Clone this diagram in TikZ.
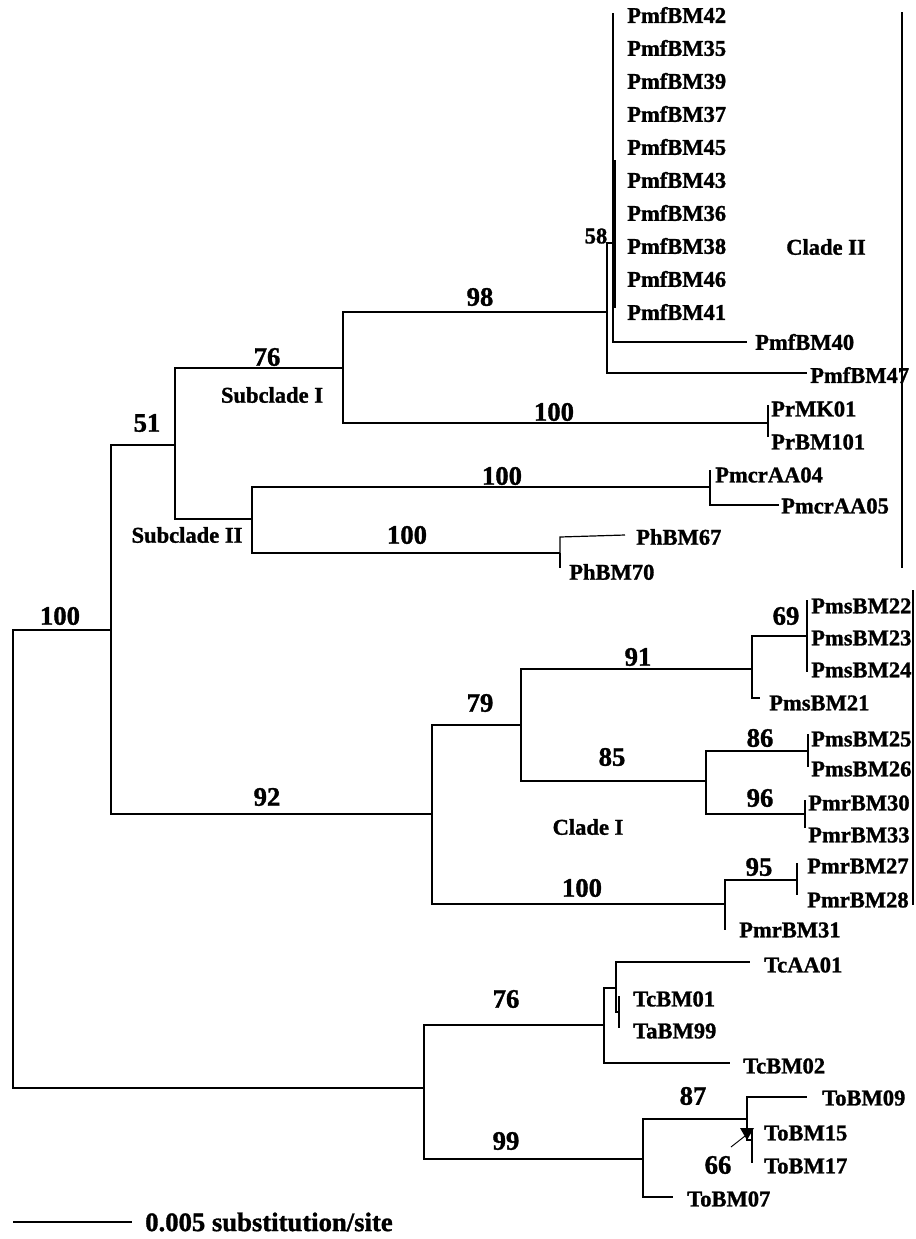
\documentclass[tikz,border=0pt]{standalone}
\usepackage{fontspec}
\setmainfont{Liberation Serif}[BoldFeatures={FakeBold=1.2}]
\usetikzlibrary{arrows.meta}
\newcommand\leaffont{\fontsize{16.9pt}{18pt}\selectfont\bfseries}
\newcommand\bootfont{\fontsize{20pt}{22pt}\selectfont\bfseries}
\begin{document}
\begin{tikzpicture}[x=0.75pt,y=-0.75pt,
  br/.style={draw=black, line width=0.9pt},
  leaf/.style={anchor=west, inner sep=0pt, font=\leaffont},
  boot/.style={inner sep=0pt, font=\bootfont},
  cladelab/.style={inner sep=0pt, font=\leaffont},
  cladebar/.style={draw=black, line width=2.2pt}]
\fill[white] (0,0) rectangle (916,1239);
\useasboundingbox (0,0) rectangle (916,1239);

% ---------- internal nodes ----------
\coordinate (r) at (13,860);
\coordinate (A) at (111,630);
\coordinate (T) at (424,1088);
\coordinate (B) at (175,445);
\coordinate (C) at (432,814);
\coordinate (S1) at (343,368);
\coordinate (S2) at (252,519);
\coordinate (D) at (607,312);
\coordinate (P) at (768,423);
\coordinate (E) at (613,243);
\coordinate (F) at (710,487);
\coordinate (G) at (560,553);
\coordinate (H) at (521,725);
\coordinate (K) at (725,904);
\coordinate (I) at (752,669);
\coordinate (J) at (706,781);
\coordinate (L) at (807,636);
\coordinate (M86) at (808,751);
\coordinate (M96) at (805,814);
\coordinate (N) at (797,880);
\coordinate (U) at (604,1025);
\coordinate (V) at (643,1159);
\coordinate (W) at (616,988);
\coordinate (X) at (619,1012);
\coordinate (Y) at (747,1119);
\coordinate (Z) at (752,1140);

% ---------- branch ends ----------
\coordinate (etop) at (613,13);
\coordinate (e40) at (747,342);
\coordinate (e47) at (807,373);
\coordinate (Eth1) at (615,160);
\coordinate (Eth2) at (615,308);
\coordinate (Ptop) at (768,405);
\coordinate (Pbot) at (768,437);
\coordinate (Ftop) at (710,470);
\coordinate (e05) at (779,505);
\coordinate (g67) at (560,537);
\coordinate (e67) at (625,535);
\coordinate (Gbot) at (560,568);
\coordinate (e21) at (760,698);
\coordinate (Ltop) at (807,600);
\coordinate (Lbot) at (807,672);
\coordinate (M86t) at (808,734);
\coordinate (M86b) at (808,767);
\coordinate (M96t) at (805,800);
\coordinate (M96b) at (805,828);
\coordinate (Kbot) at (725,930);
\coordinate (Nt) at (797,863);
\coordinate (Nb) at (797,895);
\coordinate (e02) at (730,1063);
\coordinate (Wtop) at (616,962);
\coordinate (eAA) at (750,962);
\coordinate (Xt) at (619,996);
\coordinate (Xb) at (619,1028);
\coordinate (e07) at (673,1197);
\coordinate (e09) at (807,1097);
\coordinate (Zt) at (752,1130);
\coordinate (Zb) at (752,1163);

% ---------- branches ----------
\draw[br] (r) |- (A);  \draw[br] (r) |- (T);
\draw[br] (A) |- (B);  \draw[br] (A) |- (C);
\draw[br] (B) |- (S1); \draw[br] (B) |- (S2);
\draw[br] (S1) |- (D); \draw[br] (S1) |- (P);
\draw[br] (D) |- (E);  \draw[br] (D) |- (e47);
\draw[br] (E) |- (etop); \draw[br] (E) |- (e40);
\draw[line width=2pt] (Eth1) -- (Eth2);
\draw[br] (P) -- (Ptop); \draw[br] (P) -- (Pbot);
\draw[br] (S2) |- (F); \draw[br] (S2) |- (G);
\draw[br] (F) -- (Ftop); \draw[br] (F) |- (e05);
\draw[br] (G) -- (g67) -- (e67); \draw[br] (G) -- (Gbot);
\draw[br] (C) |- (H);  \draw[br] (C) |- (K);
\draw[br] (H) |- (I);  \draw[br] (H) |- (J);
\draw[br] (I) |- (L);  \draw[br] (I) |- (e21);
\draw[br] (L) -- (Ltop); \draw[br] (L) -- (Lbot);
\draw[br] (J) |- (M86); \draw[br] (J) |- (M96);
\draw[br] (M86) -- (M86t); \draw[br] (M86) -- (M86b);
\draw[br] (M96) -- (M96t); \draw[br] (M96) -- (M96b);
\draw[br] (K) |- (N); \draw[br] (K) -- (Kbot);
\draw[br] (N) -- (Nt); \draw[br] (N) -- (Nb);
\draw[br] (T) |- (U); \draw[br] (T) |- (V);
\draw[br] (U) |- (W); \draw[br] (U) |- (e02);
\draw[br] (W) |- (eAA); \draw[br] (W) |- (X);
\draw[br] (X) -- (Xt); \draw[br] (X) -- (Xb);
\draw[br] (V) |- (Y); \draw[br] (V) |- (e07);
\draw[br] (Y) |- (e09); \draw[br] (Y) |- (Z);
\draw[br] (Z) -- (Zt); \draw[br] (Z) -- (Zb);

% arrow marker near 66
\coordinate (arS) at (731,1147);
\coordinate (arE) at (745,1136);
\draw[line width=0.7pt] (arS) -- (arE);
\fill (740,1128) -- (754,1128) -- (747,1140) -- cycle;

% ---------- clade bars ----------
\coordinate (c2t) at (902,12);  \coordinate (c2b) at (902,568);
\coordinate (c1t) at (913,590); \coordinate (c1b) at (913,905);
\draw[cladebar] (c2t) -- (c2b);
\draw[cladebar] (c1t) -- (c1b);

% ---------- leaf labels ----------
\foreach \n [count=\i from 0] in {42,35,39,37,45,43,36,38,46,41}
  \node[leaf] (pmf\n) at (627,{15+33*\i}) {PmfBM\n};
\node[leaf] (pmf40) at (755,342) {PmfBM40};
\node[leaf] (pmf47) at (810,375) {PmfBM47};
\node[leaf] (prmk01) at (771,409) {PrMK01};
\node[leaf] (prbm101) at (771,442) {PrBM101};
\node[leaf] (aa04) at (715,475) {PmcrAA04};
\node[leaf] (aa05) at (781,506) {PmcrAA05};
\node[leaf] (ph67) at (636,537) {PhBM67};
\node[leaf] (ph70) at (569,572) {PhBM70};
\node[leaf] (ms22) at (811,606) {PmsBM22};
\node[leaf] (ms23) at (811,638) {PmsBM23};
\node[leaf] (ms24) at (811,670) {PmsBM24};
\node[leaf] (ms21) at (769,703) {PmsBM21};
\node[leaf] (ms25) at (811,739) {PmsBM25};
\node[leaf] (ms26) at (811,769) {PmsBM26};
\node[leaf] (mr30) at (808,803) {PmrBM30};
\node[leaf] (mr33) at (808,835) {PmrBM33};
\node[leaf] (mr27) at (807,866) {PmrBM27};
\node[leaf] (mr28) at (807,900) {PmrBM28};
\node[leaf] (mr31) at (739,930) {PmrBM31};
\node[leaf] (tcaa01) at (764,965) {TcAA01};
\node[leaf] (tcbm01) at (633,999) {TcBM01};
\node[leaf] (tabm99) at (633,1031) {TaBM99};
\node[leaf] (tcbm02) at (743,1066) {TcBM02};
\node[leaf] (to09) at (822,1098) {ToBM09};
\node[leaf] (to15) at (764,1133) {ToBM15};
\node[leaf] (to17) at (764,1166) {ToBM17};
\node[leaf] (to07) at (687,1199) {ToBM07};

% ---------- clade labels ----------
\node[cladelab] (cl2) at (826,247) {Clade II};
\node[cladelab] (cl1) at (588,827) {Clade I};
\node[cladelab] (sc1) at (272,395) {Subclade I};
\node[cladelab] (sc2) at (187,535) {Subclade II};

% ---------- bootstrap values ----------
\node[boot] (b100r) at (60,616) {100};
\node[boot] (b51) at (147,423) {51};
\node[boot] (b76a) at (267,357) {76};
\node[boot] (b98) at (480,297) {98};
\node[cladelab] (b58) at (596,236) {58};
\node[boot] (b100p) at (554,412) {100};
\node[boot] (b100aa) at (502,476) {100};
\node[boot] (b100ph) at (407,535) {100};
\node[boot] (b92) at (267,797) {92};
\node[boot] (b79) at (480,703) {79};
\node[boot] (b91) at (638,657) {91};
\node[boot] (b85) at (612,757) {85};
\node[boot] (b69) at (786,616) {69};
\node[boot] (b86) at (760,738) {86};
\node[boot] (b96) at (760,798) {96};
\node[boot] (b95) at (759,867) {95};
\node[boot] (b100mr) at (582,888) {100};
\node[boot] (b76b) at (506,999) {76};
\node[boot] (b99) at (506,1141) {99};
\node[boot] (b87) at (693,1096) {87};
\node[boot] (b66) at (718,1165) {66};

% ---------- scale bar ----------
\coordinate (s1) at (13,1222);
\coordinate (s2) at (132,1222);
\draw[br] (s1) -- (s2);
\node[leaf, font=\bootfont] (scal) at (145,1222) {0.005 substitution/site};
\end{tikzpicture}
\end{document}
